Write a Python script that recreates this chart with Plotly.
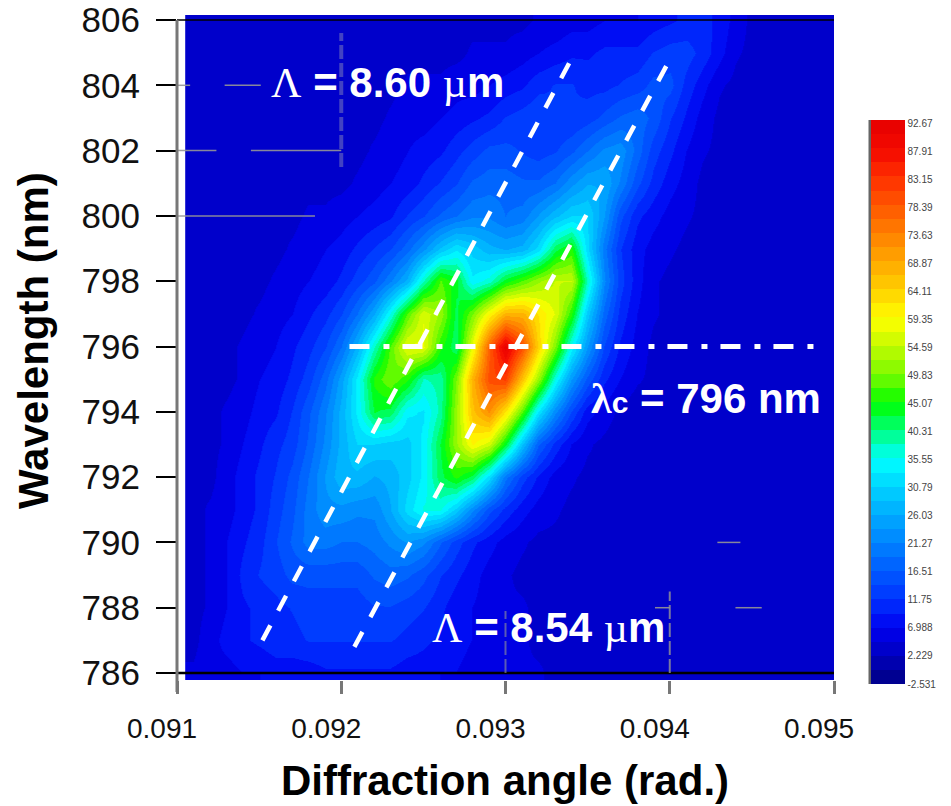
import plotly.graph_objects as go

# ---- data ----
angle = [round(0.0911 + 0.0001 * i, 5) for i in range(40)]
wavelength = list(range(786, 807))
z_786 = [5,6,6,7,7,8,8,8,9,9, 9,9,9,8,8,7,7,6,6,5, 5,5,4,4,4,4,4,4,4,4, 4,4,4,4,4,4,4,4,4,4]
z_787 = [4,6,8,9,10,11,11,12,12,12, 12,12,12,11,10,9,8,7,6,5, 5,4,4,4,4,4,4,4,4,4, 4,4,4,4,4,4,4,4,4,4]
z_788 = [4,5,7,9,10,11,12,13,13,13, 13,14,14,13,12,10,8,7,6,5, 5,4,4,4,4,4,4,3,3,3, 3,3,3,3,3,3,3,3,3,3]
z_789 = [4,5,7,10,12,13,15,15,15,15, 15,17,18,17,15,12,10,8,6,5, 4,4,4,4,4,4,3,3,3,3, 3,3,3,3,3,3,3,3,3,3]
z_790 = [4,5,7,9,11,14,17,20,20,19, 19,20,22,24,22,17,13,10,8,6, 5,4,4,4,4,3,3,3,3,3, 3,3,3,3,3,3,3,3,3,3]
z_791 = [4,5,6,8,10,13,16,20,23,23, 22,22,26,32,36,36,30,22,15,11, 8,6,5,4,4,4,3,3,3,3, 3,3,3,3,3,3,3,3,3,3]
z_792 = [4,4,6,8,10,12,15,19,24,28, 28,26,27,30,34,42,46,42,32,20, 13,9,6,5,4,4,3,3,3,3, 3,3,3,3,3,3,3,3,3,3]
z_793 = [4,4,5,7,9,11,13,17,22,27, 31,31,30,30,34,43,52,60,56,44, 29,17,11,7,5,4,3,3,3,3, 3,3,3,3,3,3,3,3,3,3]
z_794 = [4,4,5,6,8,9,12,16,21,27, 34,43,42,34,33,39,52,66,72,62, 48,33,22,14,8,6,4,3,3,3, 3,3,3,3,3,3,3,3,3,3]
z_795 = [3,4,4,5,7,8,10,13,18,25, 34,46,50,46,38,39,50,68,80,82, 66,52,36,24,16,10,7,5,4,3, 3,3,3,3,3,3,3,3,3,3]
z_796 = [3,3,4,5,6,7,9,11,14,19, 27,38,48,58,58,46,41,58,78,92, 80,64,50,35,24,14,9,6,4,3, 3,3,3,3,3,3,3,3,3,3]
z_797 = [3,3,3,4,5,6,7,9,11,14, 19,26,36,48,57,52,42,50,60,68, 68,62,57,46,30,18,11,7,5,4, 3,3,3,3,3,3,3,3,3,3]
z_798 = [3,3,3,4,4,5,6,7,8,10, 13,16,21,27,38,48,44,34,37,44, 48,52,55,55,38,22,13,8,5,4, 3,3,3,3,3,3,3,3,3,3]
z_799 = [3,3,3,3,4,4,5,6,7,8, 10,12,14,18,23,29,33,30,27,26, 27,32,42,46,32,20,12,8,6,5, 4,3,3,3,3,3,3,3,3,3]
z_800 = [3,3,3,3,3,4,4,5,5,6, 7,8,9,12,14,17,19,21,21,19, 20,24,28,31,31,24,15,10,8,6, 5,4,3,3,3,3,3,3,3,3]
z_801 = [3,3,3,3,3,3,4,4,4,4, 5,6,7,8,10,12,14,17,18,18, 17,17,19,23,26,26,21,15,11,8, 6,4,3,3,3,3,3,3,3,3]
z_802 = [3,3,3,3,3,3,3,4,4,4, 4,5,6,7,8,9,11,13,15,15, 14,13,14,16,19,22,23,18,13,10, 7,5,4,3,3,3,3,3,3,3]
z_803 = [3,3,3,3,3,3,3,4,4,4, 4,4,5,6,6,7,8,9,10,12, 13,14,12,12,13,15,17,18,16,12, 9,6,4,3,3,3,3,3,3,3]
z_804 = [3,3,3,3,3,3,3,3,3,4, 4,4,4,5,5,5,6,6,7,8, 9,11,12,12,11,11,12,13,15,15, 11,8,5,4,3,3,3,3,3,3]
z_805 = [3,3,3,3,3,3,3,3,3,3, 3,3,3,4,4,4,4,5,5,5, 6,7,8,9,9,10,10,10,12,13, 13,11,8,5,4,3,3,3,3,3]
z_806 = [3,3,3,3,3,3,3,3,3,3, 3,3,3,3,3,4,4,4,4,4, 4,5,5,6,6,7,7,7,8,9, 10,10,9,6,4,3,3,3,3,3]
z_rows = [z_786,z_787,z_788,z_789,z_790,z_791,z_792,z_793,z_794,z_795,z_796,
          z_797,z_798,z_799,z_800,z_801,z_802,z_803,z_804,z_805,z_806]

cb_vals = [92.67,87.91,83.15,78.39,73.63,68.87,64.11,59.35,54.59,49.83,45.07,
           40.31,35.55,30.79,26.03,21.27,16.51,11.75,6.988,2.229,-2.531]
cb_text = ["92.67","87.91","83.15","78.39","73.63","68.87","64.11","59.35","54.59","49.83","45.07",
           "40.31","35.55","30.79","26.03","21.27","16.51","11.75","6.988","2.229","-2.531"]
x_ticks = [0.091,0.092,0.093,0.094,0.095]
y_ticks = list(range(786, 807, 2))

line_a_x, line_a_y = [0.09152, 0.09339], [787.0, 804.7]
line_b_x, line_b_y = [0.09208, 0.09398], [786.8, 804.6]
center_x, center_y = [0.09205, 0.09491], [796, 796]

# ---- colour scale: anchors ----
anchor_v = [-2.531,2.229,6.988,11.75,16.51,21.27,26.03,30.79,35.55,40.31,45.07,49.83,54.59,59.35,64.11,68.87,73.63,78.39,83.15,87.91,93.18]
anchor_c = [(0,0,130),(0,0,190),(0,0,240),(0,50,255),(0,90,255),(0,130,255),(0,170,255),(0,210,255),(0,255,255),
            (0,255,130),(0,255,0),(120,250,0),(190,250,0),(255,255,0),(255,210,0),(255,170,0),(255,130,0),(255,90,0),(255,50,0),(245,10,0),(230,0,0)]
zmin, zmax = -2.531, 93.18

def col(v):
    for i in range(len(anchor_v) - 1):
        if v <= anchor_v[i + 1]:
            t = (v - anchor_v[i]) / (anchor_v[i + 1] - anchor_v[i])
            a, b = anchor_c[i], anchor_c[i + 1]
            return "rgb(%d,%d,%d)" % tuple(round(a[k] + t * (b[k] - a[k])) for k in range(3))
    return "rgb(230,0,0)"

N = 40
scale = []
for i in range(N):
    c = col(zmin + (i + 0.5) / N * (zmax - zmin))
    scale += [[i / N, c], [(i + 1) / N, c]]

FONT = "Liberation Sans"
fig = go.Figure()
fig.add_trace(go.Heatmap(
    x=angle, y=wavelength, z=z_rows, zsmooth="best", colorscale=scale, zmin=zmin, zmax=zmax,
    colorbar=dict(x=(871-177)/657, y=(680-684)/665, xanchor="left", yanchor="bottom",
                  len=564, lenmode="pixels", thickness=34, thicknessmode="pixels", xpad=0, ypad=0,
                  outlinewidth=0, ticks="", tickmode="array", tickvals=cb_vals, ticktext=cb_text,
                  tickfont=dict(family=FONT, size=10, color="#444"), ticklabelposition="outside"),
    showscale=True))

for xs, ys, dash, w in [(line_a_x, line_a_y, "17px,16.5px", 4.5), (line_b_x, line_b_y, "17px,16.8px", 4.5),
                        (center_x, center_y, "20px,14px,6px,13px", 5)]:
    fig.add_trace(go.Scatter(x=xs, y=ys, mode="lines", showlegend=False,
                             line=dict(color="white", width=w, dash=dash)))

# black frame lines at the range ends
for yv, w in ((786, 2.5), (806, 1.5)):
    fig.add_trace(go.Scatter(x=[0.091, 0.095], y=[yv, yv], mode="lines", showlegend=False,
                             line=dict(color="black", width=w)))

# grey remains of the grid
seg_h = [([0.091,0.09108],804),([0.09129,0.09151],804),([0.091,0.09124],802),([0.09145,0.092],802),
         ([0.091,0.09184],800),([0.09429,0.09443],790),([0.09391,0.094],788),([0.0944,0.09456],788)]
for xs, yv in seg_h:
    fig.add_trace(go.Scatter(x=xs, y=[yv, yv], mode="lines", showlegend=False,
                             line=dict(color="rgba(150,150,150,0.9)", width=1.5)))
seg_v = [(0.092, [801.5, 805.6], "rgba(120,120,190,0.55)", 4), (0.094, [786, 788.5], "rgba(150,150,150,0.8)", 2),
         (0.093, [786, 787.9], "rgba(150,150,150,0.6)", 2)]
for xv, ys, c, w in seg_v:
    fig.add_trace(go.Scatter(x=[xv, xv], y=ys, mode="lines", showlegend=False,
                             line=dict(color=c, width=w, dash="14px,4px")))

def note(x, y, text, size=42):
    fig.add_annotation(x=x, y=y, text=text, showarrow=False, xanchor="left", yanchor="middle",
                       font=dict(family=FONT, size=size, color="white"))

SER = '<span style="font-family:Liberation Serif">%s</span>'
note(0.09156, 804.1, SER % "Λ" + " <b>= 8.60</b> " + SER % "µ" + "<b>m</b>")
note(0.09254, 787.4, SER % "Λ" + " <b>= 8.54</b> " + SER % "µ" + "<b>m</b>")
note(0.09351, 794.4, SER % "<b>λ</b>" + '<span style="font-size:30px"><b>c</b></span><b> = 796 nm</b>', 42)

fig.add_annotation(xref="paper", yref="paper", x=(505-177)/657, y=(680-780)/665,
                   text="<b>Diffraction angle (rad.)</b>", showarrow=False, xanchor="center", yanchor="middle",
                   font=dict(family=FONT, size=42, color="black"))
fig.add_annotation(xref="paper", yref="paper", x=(33-177)/657, y=(680-341)/665,
                   text="<b>Wavelength (nm)</b>", textangle=-90, showarrow=False, xanchor="center", yanchor="middle",
                   font=dict(family=FONT, size=42, color="black"))

# grey left axis spine and colour bar edge
fig.add_shape(type="line", xref="paper", yref="paper", x0=0, x1=0, y0=(680-692)/665, y1=(680-20)/665,
              line=dict(color="#777", width=3))
fig.add_shape(type="line", xref="paper", yref="paper", x0=(870-177)/657, x1=(870-177)/657,
              y0=(680-684)/665, y1=(680-120)/665, line=dict(color="#666", width=3))

fig.update_layout(
    width=951, height=806, autosize=False, paper_bgcolor="white", plot_bgcolor="white", showlegend=False,
    margin=dict(l=177, r=117, t=15, b=126, autoexpand=False),
    xaxis=dict(range=[0.091, 0.095], tickmode="array", tickvals=x_ticks, ticktext=["0.091","0.092","0.093","0.094","0.095"],
               ticks="outside", ticklen=13, tickwidth=3, tickcolor="#777", showgrid=False, zeroline=False, showline=False,
               ticklabelstandoff=10, ticklabelshift=-15, ticklabeloverflow="allow",
               tickfont=dict(family=FONT, size=28, color="#111")),
    yaxis=dict(range=[785.786, 806.153], tickmode="array", tickvals=y_ticks, ticks="outside", ticklen=20, tickwidth=2,
               tickcolor="black", showgrid=False, zeroline=False, showline=False,
               ticklabelstandoff=9, ticklabeloverflow="allow", tickfont=dict(family=FONT, size=35, color="#111")),
)
# remove the page's default 8 px body margin so the figure fills the window
fig.write_html("out.html", config={"displayModeBar": False},
               post_script="document.body.style.margin='0';document.body.style.overflow='hidden';")
